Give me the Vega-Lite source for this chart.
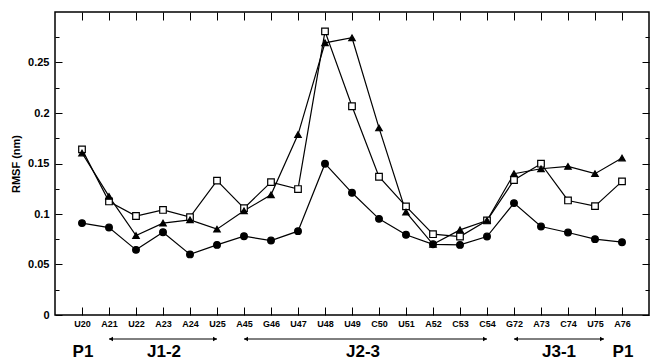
{
  "$schema": "https://vega.github.io/schema/vega-lite/v6.json",
  "width": 594,
  "height": 303,
  "autosize": "none",
  "padding": {"left": 55, "top": 12, "right": 2, "bottom": 45},
  "config": {
    "view": {"stroke": "black", "strokeWidth": 1.5},
    "font": "Liberation Sans",
    "axis": {"labelColor": "black", "titleColor": "black", "tickColor": "black", "grid": false, "domain": false, "labelFont": "Liberation Sans", "titleFont": "Liberation Sans"}
  },
  "datasets": {
    "rmsf": [
      {"res": "U20", "series": "S1", "rmsf": 0.091}, {"res": "A21", "series": "S1", "rmsf": 0.0866}, {"res": "U22", "series": "S1", "rmsf": 0.0645}, {"res": "A23", "series": "S1", "rmsf": 0.082}, {"res": "A24", "series": "S1", "rmsf": 0.060}, {"res": "U25", "series": "S1", "rmsf": 0.0694}, {"res": "A45", "series": "S1", "rmsf": 0.078}, {"res": "G46", "series": "S1", "rmsf": 0.0737}, {"res": "U47", "series": "S1", "rmsf": 0.083}, {"res": "U48", "series": "S1", "rmsf": 0.1498}, {"res": "U49", "series": "S1", "rmsf": 0.121}, {"res": "C50", "series": "S1", "rmsf": 0.0952}, {"res": "U51", "series": "S1", "rmsf": 0.0794}, {"res": "A52", "series": "S1", "rmsf": 0.070}, {"res": "C53", "series": "S1", "rmsf": 0.0694}, {"res": "C54", "series": "S1", "rmsf": 0.0777}, {"res": "G72", "series": "S1", "rmsf": 0.1108}, {"res": "A73", "series": "S1", "rmsf": 0.0876}, {"res": "C74", "series": "S1", "rmsf": 0.0817}, {"res": "U75", "series": "S1", "rmsf": 0.0751}, {"res": "A76", "series": "S1", "rmsf": 0.0721},
      {"res": "U20", "series": "S2", "rmsf": 0.164}, {"res": "A21", "series": "S2", "rmsf": 0.1124}, {"res": "U22", "series": "S2", "rmsf": 0.098}, {"res": "A23", "series": "S2", "rmsf": 0.104}, {"res": "A24", "series": "S2", "rmsf": 0.0969}, {"res": "U25", "series": "S2", "rmsf": 0.133}, {"res": "A45", "series": "S2", "rmsf": 0.1058}, {"res": "G46", "series": "S2", "rmsf": 0.1316}, {"res": "U47", "series": "S2", "rmsf": 0.1247}, {"res": "U48", "series": "S2", "rmsf": 0.2808}, {"res": "U49", "series": "S2", "rmsf": 0.2067}, {"res": "C50", "series": "S2", "rmsf": 0.1369}, {"res": "U51", "series": "S2", "rmsf": 0.1075}, {"res": "A52", "series": "S2", "rmsf": 0.080}, {"res": "C53", "series": "S2", "rmsf": 0.0777}, {"res": "C54", "series": "S2", "rmsf": 0.0936}, {"res": "G72", "series": "S2", "rmsf": 0.1336}, {"res": "A73", "series": "S2", "rmsf": 0.1498}, {"res": "C74", "series": "S2", "rmsf": 0.1134}, {"res": "U75", "series": "S2", "rmsf": 0.1078}, {"res": "A76", "series": "S2", "rmsf": 0.1323},
      {"res": "U20", "series": "S3", "rmsf": 0.1604}, {"res": "A21", "series": "S3", "rmsf": 0.1174}, {"res": "U22", "series": "S3", "rmsf": 0.0787}, {"res": "A23", "series": "S3", "rmsf": 0.091}, {"res": "A24", "series": "S3", "rmsf": 0.0942}, {"res": "U25", "series": "S3", "rmsf": 0.085}, {"res": "A45", "series": "S3", "rmsf": 0.1032}, {"res": "G46", "series": "S3", "rmsf": 0.119}, {"res": "U47", "series": "S3", "rmsf": 0.1786}, {"res": "U48", "series": "S3", "rmsf": 0.2695}, {"res": "U49", "series": "S3", "rmsf": 0.2745}, {"res": "C50", "series": "S3", "rmsf": 0.1852}, {"res": "U51", "series": "S3", "rmsf": 0.1019}, {"res": "A52", "series": "S3", "rmsf": 0.070}, {"res": "C53", "series": "S3", "rmsf": 0.0843}, {"res": "C54", "series": "S3", "rmsf": 0.0936}, {"res": "G72", "series": "S3", "rmsf": 0.1399}, {"res": "A73", "series": "S3", "rmsf": 0.1448}, {"res": "C74", "series": "S3", "rmsf": 0.1471}, {"res": "U75", "series": "S3", "rmsf": 0.1399}, {"res": "A76", "series": "S3", "rmsf": 0.1554}
    ]
  },
  "resolve": {"axis": {"x": "independent", "y": "independent"}},
  "layer": [
    {
      "data": {"name": "rmsf"},
      "mark": {"type": "line", "color": "black", "strokeWidth": 1.2},
      "encoding": {
        "x": {"field": "res", "type": "ordinal", "sort": null,
          "scale": {"type": "point", "padding": 1, "domain": ["U20","A21","U22","A23","A24","U25","A45","G46","U47","U48","U49","C50","U51","A52","C53","C54","G72","A73","C74","U75","A76"]},
          "axis": {"orient": "bottom", "title": null, "labelAngle": 0, "tickSize": -8, "labelPadding": 12, "labelFontSize": 9, "labelFontWeight": "bold"}},
        "y": {"field": "rmsf", "type": "quantitative",
          "scale": {"domain": [0, 0.3], "nice": false, "zero": true},
          "axis": {"orient": "left", "title": "RMSF (nm)", "titleFontSize": 11, "titleFontWeight": "bold", "titlePadding": 6,
            "values": [0, 0.025, 0.05, 0.075, 0.1, 0.125, 0.15, 0.175, 0.2, 0.225, 0.25, 0.275],
            "labelExpr": "round(datum.value*40)%2==0 ? format(datum.value, '.2~f') : ''",
            "tickSize": {"condition": {"test": "round(datum.value*40)%2==0", "value": -7}, "value": -4},
            "labelPadding": 13, "labelFontSize": 11, "labelFontWeight": "bold"}},
        "detail": {"field": "series"}
      }
    },
    {
      "data": {"name": "rmsf"},
      "mark": {"type": "point", "filled": false, "stroke": "black", "strokeWidth": 1.2, "opacity": 1},
      "encoding": {
        "x": {"field": "res", "type": "ordinal", "sort": null,
          "axis": {"orient": "top", "title": null, "labels": false, "tickSize": -8}},
        "y": {"field": "rmsf", "type": "quantitative",
          "axis": {"orient": "right", "title": null, "labels": false,
            "values": [0, 0.025, 0.05, 0.075, 0.1, 0.125, 0.15, 0.175, 0.2, 0.225, 0.25, 0.275],
            "tickSize": {"condition": {"test": "round(datum.value*40)%2==0", "value": -7}, "value": -4}}},
        "shape": {"field": "series", "type": "nominal", "scale": {"domain": ["S1", "S2", "S3"], "range": ["circle", "square", "triangle-up"]}, "legend": null},
        "fill": {"field": "series", "type": "nominal", "scale": {"domain": ["S1", "S2", "S3"], "range": ["black", "white", "black"]}, "legend": null},
        "size": {"field": "series", "type": "nominal", "scale": {"domain": ["S1", "S2", "S3"], "range": [45, 42, 50]}, "legend": null}
      }
    },
    {
      "data": {"values": [{"label": "P1", "res": "U20"}, {"label": "J1-2", "res": "A23"}, {"label": "P1", "res": "A76"}]},
      "mark": {"type": "text", "fontSize": 17, "fontWeight": "bold", "color": "black", "baseline": "alphabetic", "align": "center", "dy": 42, "dx": 1},
      "encoding": {
        "x": {"field": "res", "type": "ordinal", "axis": null},
        "y": {"datum": 0, "type": "quantitative", "axis": null},
        "text": {"field": "label"}
      }
    },
    {
      "data": {"values": [{"label": "J2-3", "res": "U49"}]},
      "mark": {"type": "text", "fontSize": 17, "fontWeight": "bold", "color": "black", "baseline": "alphabetic", "align": "center", "dy": 42, "dx": 11},
      "encoding": {
        "x": {"field": "res", "type": "ordinal", "axis": null},
        "y": {"datum": 0, "type": "quantitative", "axis": null},
        "text": {"field": "label"}
      }
    },
    {
      "data": {"values": [{"label": "J3-1", "res": "C74"}]},
      "mark": {"type": "text", "fontSize": 17, "fontWeight": "bold", "color": "black", "baseline": "alphabetic", "align": "center", "dy": 42, "dx": -9},
      "encoding": {
        "x": {"field": "res", "type": "ordinal", "axis": null},
        "y": {"datum": 0, "type": "quantitative", "axis": null},
        "text": {"field": "label"}
      }
    },
    {
      "data": {"values": [{"from": "A21", "to": "U25"}, {"from": "A45", "to": "C54"}]},
      "mark": {"type": "rule", "color": "black", "strokeWidth": 1, "yOffset": 24},
      "encoding": {
        "x": {"field": "from", "type": "ordinal", "axis": null},
        "x2": {"field": "to"},
        "y": {"datum": 0, "type": "quantitative", "axis": null}
      }
    },
    {
      "data": {"values": [{"from": "G72", "to": "U75"}]},
      "mark": {"type": "rule", "color": "black", "strokeWidth": 1, "yOffset": 24, "x2Offset": 9},
      "encoding": {
        "x": {"field": "from", "type": "ordinal", "axis": null},
        "x2": {"field": "to"},
        "y": {"datum": 0, "type": "quantitative", "axis": null}
      }
    },
    {
      "data": {"values": [{"res": "A21"}, {"res": "A45"}, {"res": "G72"}]},
      "mark": {"type": "point", "shape": "triangle-left", "filled": true, "color": "black", "opacity": 1, "size": 22, "yOffset": 24, "xOffset": 2},
      "encoding": {
        "x": {"field": "res", "type": "ordinal", "axis": null},
        "y": {"datum": 0, "type": "quantitative", "axis": null}
      }
    },
    {
      "data": {"values": [{"res": "U25"}, {"res": "C54"}]},
      "mark": {"type": "point", "shape": "triangle-right", "filled": true, "color": "black", "opacity": 1, "size": 22, "yOffset": 24, "xOffset": -2},
      "encoding": {
        "x": {"field": "res", "type": "ordinal", "axis": null},
        "y": {"datum": 0, "type": "quantitative", "axis": null}
      }
    },
    {
      "data": {"values": [{"res": "U75"}]},
      "mark": {"type": "point", "shape": "triangle-right", "filled": true, "color": "black", "opacity": 1, "size": 22, "yOffset": 24, "xOffset": 7},
      "encoding": {
        "x": {"field": "res", "type": "ordinal", "axis": null},
        "y": {"datum": 0, "type": "quantitative", "axis": null}
      }
    }
  ]
}
